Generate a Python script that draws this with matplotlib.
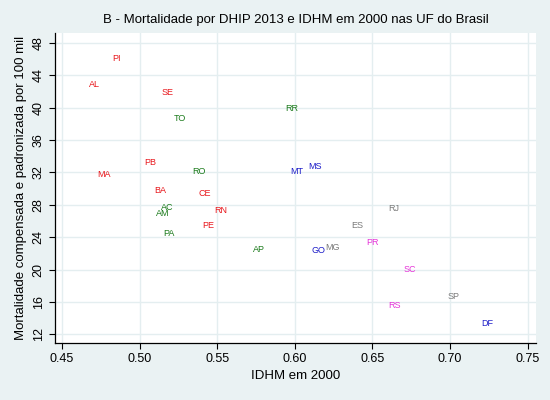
import matplotlib.pyplot as plt

# UF labels, IDHM 2000 and mortality
ufs = ['PI', 'AL', 'SE', 'TO', 'RR', 'PB', 'MA', 'RO', 'MT', 'MS', 'BA', 'CE', 'AC', 'AM',
       'RN', 'PE', 'PA', 'AP', 'GO', 'MG', 'ES', 'RJ', 'PR', 'SC', 'SP', 'RS', 'DF']
idhm = [0.485, 0.471, 0.518, 0.526, 0.598, 0.507, 0.477, 0.538, 0.601, 0.613, 0.513, 0.542,
        0.518, 0.515, 0.552, 0.544, 0.519, 0.577, 0.615, 0.624, 0.640, 0.664, 0.650, 0.674,
        0.702, 0.664, 0.724]
mort = [46.0, 42.9, 41.9, 38.6, 39.9, 33.2, 31.8, 32.1, 32.1, 32.7, 29.8, 29.4, 27.7, 26.9,
        27.3, 25.5, 24.4, 22.5, 22.4, 22.7, 25.5, 27.6, 23.4, 20.0, 16.7, 15.6, 13.4]
regiao = ['NE', 'NE', 'NE', 'N', 'N', 'NE', 'NE', 'N', 'CO', 'CO', 'NE', 'NE', 'N', 'N',
          'NE', 'NE', 'N', 'N', 'CO', 'SE', 'SE', 'SE', 'S', 'S', 'SE', 'S', 'CO']

cores = {'N': '#1a7a1a', 'NE': '#e8161b', 'CO': '#1c1cc8', 'SE': '#7a7a7a', 'S': '#e632d8'}
bg = '#eaf2f3'

plt.rcParams['font.family'] = ['Liberation Sans', 'DejaVu Sans']

fig = plt.figure(figsize=(5.5, 4), dpi=100, facecolor=bg)
ax = fig.add_axes([0.1, 0.1425, 0.8745, 0.775])
ax.set_facecolor('white')

for uf, x, y, r in zip(ufs, idhm, mort, regiao):
    ax.text(x, y, uf, color=cores[r], fontsize=6.5, ha='center', va='center')

ax.set_xlim(0.4455, 0.7553)
ax.set_ylim(10.95, 49.2)
ax.set_xticks([0.45, 0.50, 0.55, 0.60, 0.65, 0.70, 0.75])
ax.set_xticklabels(['0.45', '0.50', '0.55', '0.60', '0.65', '0.70', '0.75'])
ax.set_yticks(range(12, 49, 4))
for lbl in ax.get_yticklabels():
    lbl.set_rotation(90)
    lbl.set_va('center')
ax.tick_params(labelsize=9, length=4, width=0.8, color='black')

ax.grid(True, color='#e4eef0', linewidth=1)
ax.set_axisbelow(True)
for s in ['top', 'right']:
    ax.spines[s].set_visible(False)
for s in ['left', 'bottom']:
    ax.spines[s].set_linewidth(0.9)

ax.set_xlabel('IDHM em 2000', fontsize=9.5, labelpad=3)
ax.set_ylabel('Mortalidade compensada e padronizada por 100 mil', fontsize=9.5, labelpad=4)
ax.set_title('B - Mortalidade por DHIP 2013 e IDHM em 2000 nas UF do Brasil',
             fontsize=9.5, pad=7)

fig.savefig('out.png', dpi=100, facecolor=bg)
